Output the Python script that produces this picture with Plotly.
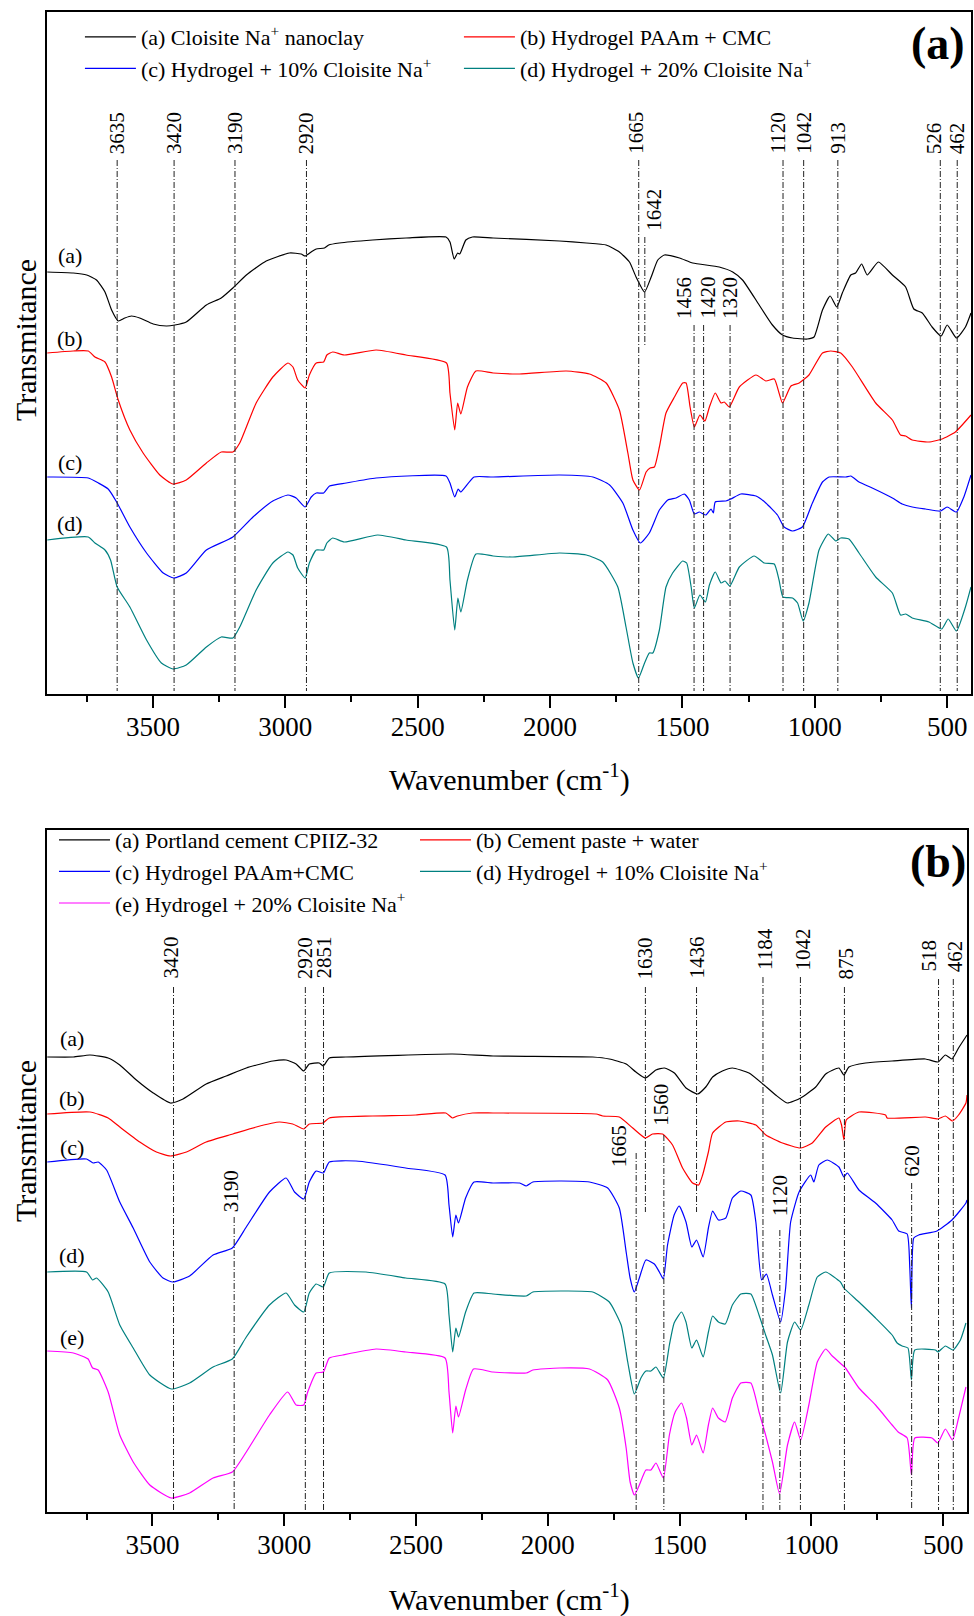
import plotly.graph_objects as go

# ---------------- data (wavenumber cm-1, transmittance in arbitrary units) ----------------
A_CLAY = [(3899,422),(3801,421),(3750,419),(3713,414),(3681,402),(3656,384),(3631,373),(3606,376),
          (3581,378),(3550,376),(3499,370),(3449,368),(3417,369),(3374,372),(3298,389),(3242,396),
          (3198,406),(3147,419),(3072,433),(2984,441),(2940,440),(2925,438),(2902,442),(2883,445),
          (2852,446),(2836,449),(2796,451),(2670,454),(2544,456),(2393,457),(2378,452),(2362,435),
          (2349,441),(2341,440),(2318,454),(2293,457),(2215,456),(1964,453),(1863,451),(1788,449),
          (1738,442),(1700,432),(1675,417),(1643,402),(1618,417),(1593,434),(1568,439),(1511,436),
          (1461,431),(1361,427),(1310,422),(1273,414),(1210,389),(1160,369),(1122,359),(1084,356),
          (1028,355),(1003,357),(971,384),(942,398),(917,387),(896,401),(864,419),(846,421),
          (823,430),(802,419),(760,432),(707,419),(657,407),(626,385),(594,381),(557,367),
          (523,358),(500,369),(465,356),(431,367),(410,381)]
A_HYDRO = [(3899,341),(3801,343),(3744,343),(3719,337),(3681,332),(3656,317),(3631,294),(3587,264),
           (3537,241),(3474,219),(3424,210),(3374,214),(3298,231),(3242,242),(3198,242),(3172,251),
           (3110,291),(3047,317),(2990,331),(2971,327),(2953,314),(2925,306),(2909,319),(2883,331),
           (2855,332),(2843,339),(2821,342),(2777,339),(2657,344),(2544,339),(2391,331),(2378,301),
           (2360,264),(2349,291),(2337,280),(2312,307),(2280,323),(2215,321),(2115,320),(1939,323),
           (1851,320),(1788,311),(1738,284),(1706,241),(1687,214),(1662,204),(1637,222),(1622,226),
           (1606,227),(1587,247),(1562,281),(1530,297),(1499,311),(1486,311),(1471,287),(1455,267),
           (1434,279),(1415,273),(1398,287),(1376,301),(1354,291),(1342,292),(1323,287),(1285,307),
           (1222,319),(1185,313),(1153,315),(1135,301),(1122,291),(1090,308),(1059,311),(1022,319),
           (971,341),(940,343),(902,341),(858,327),(770,291),(707,274),(676,259),(657,258),
           (632,254),(569,252),(519,255),(469,262),(410,279)]
A_H10 = [(3899,217),(3744,216),(3706,211),(3669,205),(3637,192),(3587,167),(3524,141),(3461,121),
         (3421,116),(3374,121),(3298,144),(3198,157),(3122,177),(3047,193),(2990,199),(2959,196),
         (2925,187),(2902,197),(2883,201),(2855,201),(2833,208),(2770,211),(2657,216),(2393,218),
         (2378,211),(2360,197),(2347,205),(2337,202),(2287,217),(2215,217),(1964,219),(1838,217),
         (1775,209),(1725,191),(1687,164),(1659,151),(1625,161),(1587,184),(1555,194),(1524,196),
         (1493,200),(1474,194),(1455,180),(1436,182),(1411,179),(1392,185),(1383,181),(1376,192),
         (1336,193),(1317,195),(1279,200),(1222,198),(1185,191),(1141,179),(1116,167),(1084,163),
         (1047,167),(1009,191),(971,212),(946,217),(883,217),(864,218),(833,212),(783,206),
         (707,196),(670,190),(632,187),(582,185),(525,183),(500,187),(465,182),(437,197),(410,219)]
A_H20 = [(3899,154),(3744,157),(3719,151),(3681,144),(3660,134),(3635,107),(3587,87),(3524,54),
         (3468,31),(3424,25),(3374,29),(3298,47),(3242,57),(3198,56),(3172,67),(3110,104),
         (3047,131),(2990,142),(2971,139),(2953,126),(2925,116),(2909,131),(2883,144),(2855,144),
         (2843,151),(2821,156),(2777,152),(2651,159),(2544,154),(2391,147),(2378,114),(2360,64),
         (2348,96),(2337,82),(2312,114),(2280,140),(2215,138),(2140,137),(1964,141),(1863,139),
         (1801,132),(1744,107),(1713,67),(1687,31),(1666,16),(1643,31),(1625,41),(1612,41),
         (1587,64),(1562,107),(1537,121),(1499,133),(1484,131),(1467,107),(1455,86),(1434,99),
         (1413,92),(1398,109),(1376,122),(1354,111),(1339,113),(1321,108),(1285,127),(1229,138),
         (1191,131),(1153,130),(1135,114),(1120,97),(1084,96),(1065,91),(1044,73),(1022,91),
         (984,144),(949,160),(921,153),(902,156),(871,155),(833,141),(770,117),(707,101),
         (676,79),(657,80),(632,76),(569,72),(521,65),(496,75),(465,63),(431,87),(410,107)]

B_CEMENT = [(3899,455),(3800,455),(3737,457),(3668,454),(3624,447),(3561,432),(3497,419),(3432,409),
            (3384,413),(3296,428),(3220,436),(3144,444),(3043,451),(2993,452),(2955,448),(2926,441),
            (2905,448),(2867,449),(2852,446),(2829,454),(2766,455),(2362,458),(2208,456),(1830,455),
            (1767,453),(1703,448),(1666,440),(1630,434),(1590,442),(1558,444),(1520,439),(1476,424),
            (1432,418),(1401,425),(1375,435),(1338,441),(1300,444),(1237,439),(1180,427),(1136,417),
            (1092,409),(1041,414),(984,425),(946,438),(896,444),(877,437),(858,445),(795,449),
            (694,451),(568,453),(520,450),(492,457),(467,453),(442,464),(410,477)]
B_PASTE = [(3899,398),(3737,400),(3668,394),(3624,385),(3548,370),(3485,360),(3432,356),(3371,360),
           (3296,370),(3195,378),(3106,385),(3018,390),(2968,388),(2926,383),(2905,388),(2854,389),
           (2829,394),(2665,396),(2501,397),(2387,399),(2362,394),(2343,396),(2286,399),(2208,399),
           (1817,398),(1792,396),(1729,395),(1678,384),(1630,374),(1603,378),(1565,378),(1527,367),
           (1489,344),(1451,329),(1428,327),(1413,337),(1391,360),(1375,379),(1325,390),(1274,391),
           (1211,387),(1173,377),(1110,369),(1041,364),(997,369),(946,385),(896,394),(886,387),
           (877,372),(868,392),(820,400),(719,397),(713,394),(568,395),(520,393),(492,396),
           (465,391),(442,397),(414,409),(410,417)]
B_HYDRO = [(3899,350),(3750,353),(3725,349),(3706,350),(3674,342),(3624,310),(3573,284),(3510,250),
           (3460,234),(3422,230),(3359,236),(3270,257),(3197,264),(3144,285),(3056,320),(2993,334),
           (2961,320),(2926,313),(2905,330),(2879,341),(2852,339),(2829,350),(2728,351),(2539,344),
           (2390,337),(2375,307),(2361,275),(2349,297),(2339,289),(2312,314),(2280,330),(2208,329),
           (2107,329),(2082,326),(2057,330),(1956,331),(1842,330),(1773,324),(1729,304),(1703,260),
           (1688,234),(1672,220),(1653,234),(1628,252),(1596,248),(1577,240),(1562,233),(1546,267),
           (1521,297),(1502,306),(1476,290),(1454,265),(1436,272),(1411,255),(1391,284),(1375,301),
           (1353,292),(1325,294),(1300,314),(1268,321),(1230,317),(1211,290),(1189,232),(1171,238),
           (1148,217),(1117,190),(1098,224),(1079,290),(1047,320),(1003,337),(991,330),(972,347),
           (940,352),(896,345),(877,335),(864,339),(820,322),(757,309),(694,292),(669,281),
           (637,278),(627,244),(621,204),(612,274),(593,277),(524,281),(467,292),(414,309),(410,312)]
B_H10 = [(3899,240),(3750,240),(3727,232),(3712,234),(3668,220),(3624,187),(3573,164),(3510,137),
         (3428,123),(3359,129),(3270,145),(3197,153),(3144,175),(3056,207),(2993,219),(2961,207),
         (2926,200),(2905,219),(2879,228),(2852,225),(2829,239),(2690,240),(2539,234),(2390,228),
         (2375,197),(2361,160),(2349,184),(2339,175),(2312,200),(2280,219),(2208,218),(2082,216),
         (2057,220),(1931,221),(1830,220),(1767,210),(1722,187),(1697,150),(1672,118),(1647,134),
         (1628,141),(1609,141),(1590,145),(1562,134),(1539,167),(1521,189),(1493,200),(1476,190),
         (1454,164),(1436,172),(1411,155),(1391,180),(1375,196),(1353,190),(1327,188),(1300,207),
         (1268,218),(1230,218),(1199,197),(1174,177),(1148,157),(1117,119),(1091,170),(1064,190),
         (1041,182),(1010,207),(978,235),(946,240),(890,230),(877,224),(820,210),(757,194),
         (694,177),(675,169),(656,166),(634,164),(621,132),(608,162),(530,162),(520,160),
         (492,166),(463,162),(435,172),(414,189)]
B_H20 = [(3899,161),(3800,159),(3744,153),(3727,144),(3706,142),(3668,120),(3624,77),(3573,50),
         (3510,27),(3428,14),(3359,19),(3270,34),(3197,40),(3144,60),(3056,97),(2987,120),
         (2955,107),(2926,107),(2911,120),(2879,139),(2852,140),(2829,154),(2778,157),(2652,163),
         (2539,160),(2390,154),(2375,120),(2361,79),(2349,106),(2339,95),(2312,122),(2282,143),
         (2208,140),(2082,139),(2057,142),(1956,144),(1842,143),(1773,132),(1729,104),(1703,64),
         (1688,30),(1672,17),(1653,27),(1628,42),(1609,42),(1590,49),(1562,34),(1539,77),
         (1517,100),(1493,109),(1474,94),(1454,67),(1436,77),(1411,59),(1391,87),(1375,104),
         (1353,94),(1327,90),(1300,114),(1268,129),(1230,129),(1199,100),(1174,77),(1148,50),
         (1121,18),(1091,67),(1064,90),(1041,72),(1010,107),(978,150),(946,163),(921,156),
         (883,147),(871,144),(820,124),(757,107),(694,87),(671,80),(637,74),(621,37),
         (608,74),(543,74),(521,69),(492,83),(465,72),(442,94),(414,125)]

A_NAMES = ["(a) Cloisite Na<sup>+</sup> nanoclay", "(b) Hydrogel PAAm + CMC",
           "(c) Hydrogel + 10% Cloisite Na<sup>+</sup>", "(d) Hydrogel + 20% Cloisite Na<sup>+</sup>"]
B_NAMES = ["(a) Portland cement CPIIZ-32", "(b) Cement paste + water", "(c) Hydrogel PAAm+CMC",
           "(d) Hydrogel + 10% Cloisite Na<sup>+</sup>", "(e) Hydrogel + 20% Cloisite Na<sup>+</sup>"]
CURVE_TAGS_A = ["(a)", "(b)", "(c)", "(d)"]
CURVE_TAGS_B = ["(a)", "(b)", "(c)", "(d)", "(e)"]

A_PEAKS_TOP = [3635, 3420, 3190, 2920, 1665, 1120, 1042, 913, 526, 462]
A_PEAKS_MID = [1642]
A_PEAKS_LOW = [1456, 1420, 1320]
B_PEAKS_FULL = [3420, 2920, 2851, 875]
B_PEAKS_SHORT = [1630, 1436]
B_PEAKS_HIGH = [1184, 1042]
B_PEAKS_RIGHT = [518, 462]
B_PEAK_1560 = [1560]
B_PEAK_1665 = [1665]
B_PEAK_3190 = [3190]
B_PEAK_1120 = [1120]
B_PEAK_620 = [620]

TICK_VALUES = [3500, 3000, 2500, 2000, 1500, 1000, 500]

# ---------------- styling / layout ----------------
FONT = "Liberation Serif, Times New Roman, serif"
W, H = 974, 1616
ML, MT = 47, 12
PLOT_RIGHT, PLOT_BOTTOM = 973, 1512
MR, MB = W - PLOT_RIGHT, H - PLOT_BOTTOM
PW, PH = W - ML - MR, H - MT - MB
def px_x(p): return (p - ML) / PW
def px_y(p): return (PLOT_BOTTOM - p) / PH

COLORS_A = ["#000000", "#ff0000", "#0000ff", "#008080"]
COLORS_B = ["#000000", "#ff0000", "#0000ff", "#008080", "#ff00ff"]
LINE = dict(width=1.2, shape="spline", smoothing=0.5)

fig = go.Figure()
for series, name, col in zip([A_CLAY, A_HYDRO, A_H10, A_H20], A_NAMES, COLORS_A):
    fig.add_trace(go.Scatter(x=[p[0] for p in series], y=[p[1] for p in series], mode="lines",
                             name=name, line=dict(color=col, **LINE), xaxis="x", yaxis="y",
                             legend="legend", hoverinfo="skip"))
for series, name, col in zip([B_CEMENT, B_PASTE, B_HYDRO, B_H10, B_H20], B_NAMES, COLORS_B):
    fig.add_trace(go.Scatter(x=[p[0] for p in series], y=[p[1] for p in series], mode="lines",
                             name=name, line=dict(color=col, **LINE), xaxis="x2", yaxis="y2",
                             legend="legend2", hoverinfo="skip"))

axis_common = dict(range=[3900, 410], showline=True, linewidth=2, linecolor="black", mirror=True,
                   ticks="outside", ticklen=12, tickwidth=2, tickcolor="black",
                   tickvals=TICK_VALUES, showgrid=False, zeroline=False, ticklabelstandoff=-4,
                   tickfont=dict(family=FONT, size=27, color="black"),
                   minor=dict(dtick=250, tick0=0, ticks="outside", ticklen=6, tickwidth=2,
                              tickcolor="black", showgrid=False))
yaxis_common = dict(range=[0, 682], showline=True, linewidth=2, linecolor="black", mirror=True,
                    showticklabels=False, ticks="", showgrid=False, zeroline=False)

fig.update_layout(
    width=W, height=H, margin=dict(l=ML, r=MR, t=MT, b=MB),
    paper_bgcolor="white", plot_bgcolor="white",
    xaxis=dict(domain=[0, 1], anchor="y", **axis_common),
    yaxis=dict(domain=[px_y(694), 1], anchor="x", **yaxis_common),
    xaxis2=dict(domain=[0, 922 / PW], anchor="y2", **axis_common),
    yaxis2=dict(domain=[0, px_y(830)], anchor="x2", **yaxis_common),
    legend=dict(orientation="h", x=px_x(80), y=px_y(16), xanchor="left", yanchor="top",
                entrywidth=313, entrywidthmode="pixels", itemwidth=51,
                font=dict(family=FONT, size=22, color="black"), bgcolor="rgba(0,0,0,0)",
                tracegroupgap=0),
    legend2=dict(orientation="h", x=px_x(54), y=px_y(819), xanchor="left", yanchor="top",
                 entrywidth=295, entrywidthmode="pixels", itemwidth=51,
                 font=dict(family=FONT, size=22, color="black"), bgcolor="rgba(0,0,0,0)",
                 tracegroupgap=0),
    showlegend=True,
)

DASH = "6px,2px,1px,2px"
annotations = []
shapes = []

def peaks(wns, xa, ya, label_base, line_top, line_bot, shifts=None):
    shifts = shifts or {}
    for wn in wns:
        shapes.append(dict(type="line", xref=xa, yref=ya, x0=wn, x1=wn, y0=line_top, y1=line_bot,
                           line=dict(color="#222222", width=1, dash=DASH)))
        annotations.append(dict(x=wn, y=label_base, xref=xa, yref=ya, text=str(wn), showarrow=False,
                                textangle=-90, xanchor="center", yanchor="bottom",
                                xshift=shifts.get(wn, 0), borderpad=0,
                                font=dict(family=FONT, size=21, color="black")))

peaks(A_PEAKS_TOP, "x", "y", 539, 534, 3, {1120: -6, 526: -6, 1665: -3})
peaks(A_PEAKS_MID, "x", "y", 462, 457, 349, {1642: 9})
peaks(A_PEAKS_LOW, "x", "y", 374, 369, 3, {1456: -10, 1420: 4})
peaks(B_PEAKS_FULL, "x2", "y2", 532, 525, 2, {3420: -3, 875: 2})
peaks(B_PEAKS_SHORT, "x2", "y2", 532, 525, 300)
peaks(B_PEAKS_HIGH, "x2", "y2", 541, 535, 2, {1184: 2, 1042: 3})
peaks(B_PEAKS_RIGHT, "x2", "y2", 539, 533, 2, {518: -10, 462: 2})
peaks(B_PEAK_1560, "x2", "y2", 385, 377, 2, {1560: -3})
peaks(B_PEAK_1665, "x2", "y2", 344, 359, 2, {1665: -17})
peaks(B_PEAK_3190, "x2", "y2", 299, 295, 2, {3190: -3})
peaks(B_PEAK_1120, "x2", "y2", 295, 282, 2)
peaks(B_PEAK_620, "x2", "y2", 334, 329, 2)

def note(xp, yp, text, size, angle=0):
    annotations.append(dict(x=px_x(xp), y=px_y(yp), xref="paper", yref="paper", text=text,
                            showarrow=False, xanchor="center", yanchor="middle", textangle=angle,
                            font=dict(family=FONT, size=size, color="black")))

# curve tags (screen y positions)
for tag, yp in zip(CURVE_TAGS_A, [256, 338, 463, 523]):
    note(70, yp, tag, 22)
for tag, yp in zip(CURVE_TAGS_B, [1038, 1098, 1147, 1255, 1337]):
    note(72, yp, tag, 22)

# axis titles and panel letters
for ytitle_px, xtitle_px, letter, letter_px in [(340, 778, "(a)", 44), (1141, 1598, "(b)", 861)]:
    note(511, xtitle_px, "Wavenumber (cm<sup>-1</sup>)", 30)
    note(25, ytitle_px, "Transmitance", 30, -90)
    note(940, letter_px, "<b>" + letter + "</b>", 46)

fig.update_layout(annotations=annotations, shapes=shapes)
fig.write_html("out.html", config={"displayModeBar": False},
               post_script="document.body.style.margin='0';"
                           "document.body.style.overflow='hidden';"
                           "document.documentElement.style.overflow='hidden';")
